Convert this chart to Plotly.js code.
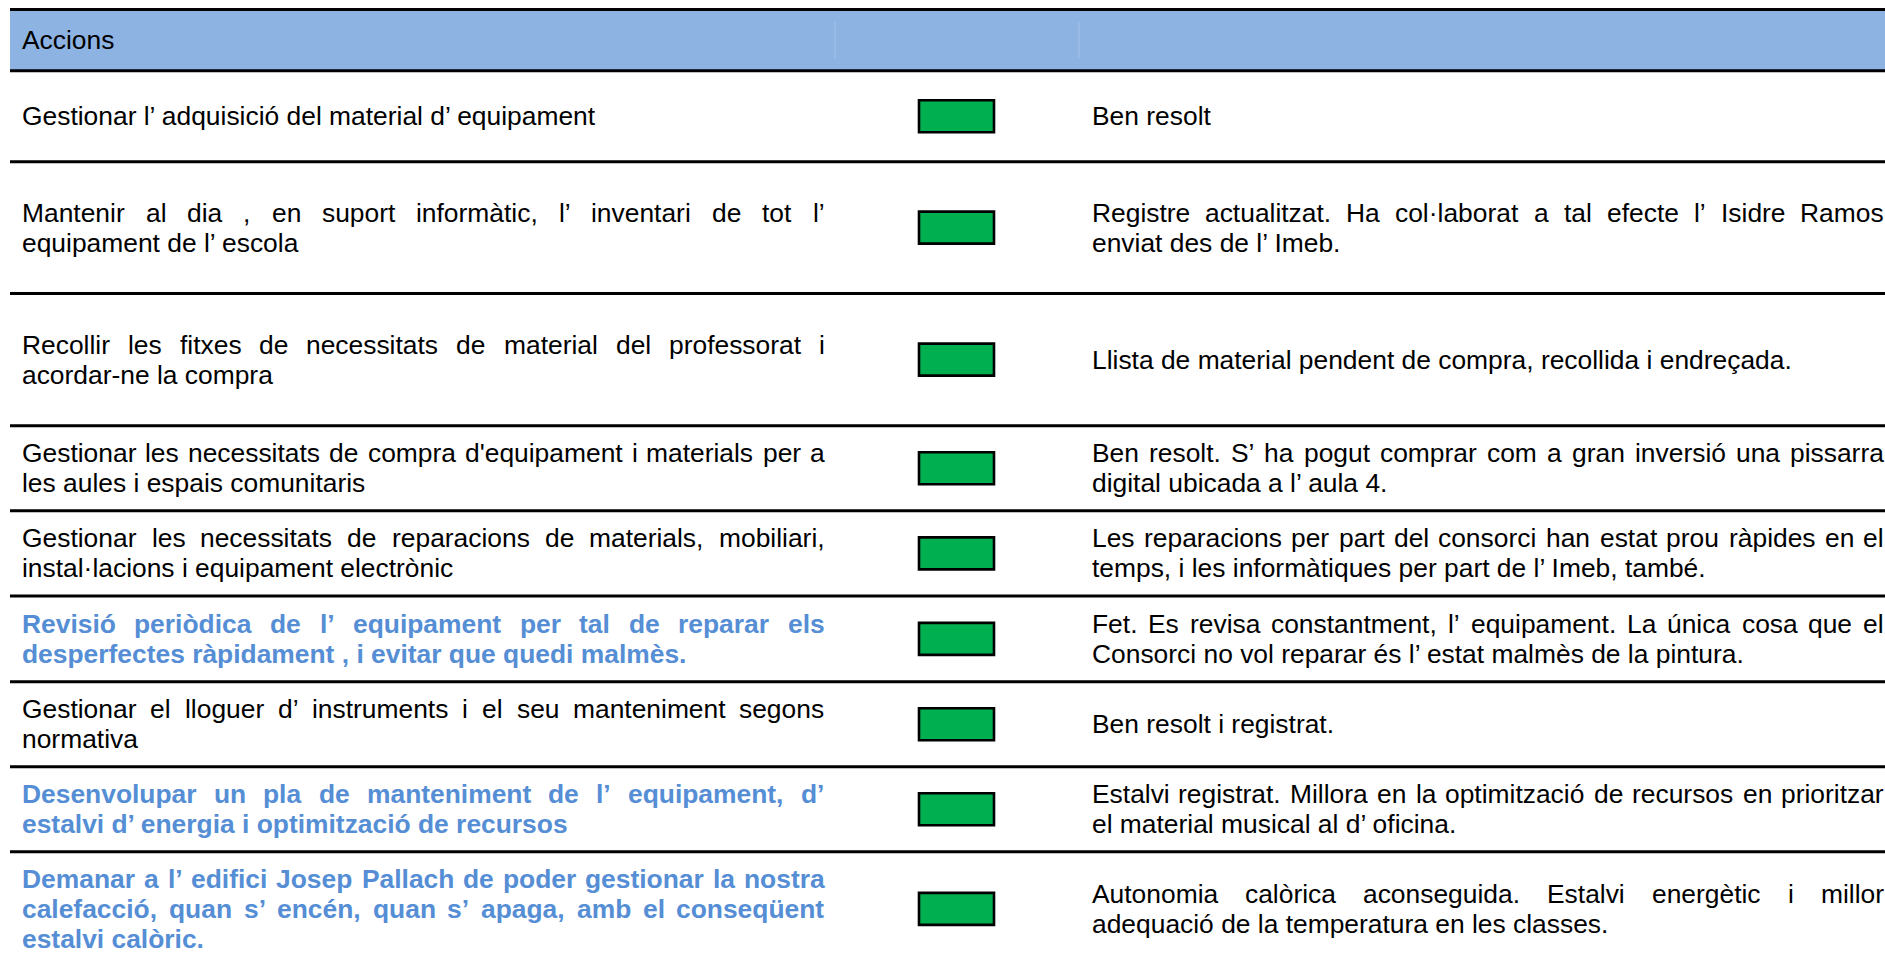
<!DOCTYPE html>
<html><head><meta charset="utf-8">
<script src="https://cdn.plot.ly/plotly-3.0.1.min.js"></script>
<style>html,body{margin:0;padding:0;background:#fff;overflow:hidden}</style>
</head><body>
<div id="chart" style="width:1885px;height:964px"></div>
<script>
// ---------- DATA ----------
const headerLabels = ['Accions'];
const actions = [
  ['Gestionar l’ adquisició del material d’ equipament'],
  ['Mantenir al dia , en suport informàtic, l’ inventari de tot l’', 'equipament de l’ escola'],
  ['Recollir les fitxes de necessitats de material del professorat i', 'acordar-ne la compra'],
  ['Gestionar les necessitats de compra d\'equipament i materials per a', 'les aules i espais comunitaris'],
  ['Gestionar les necessitats de reparacions de materials, mobiliari,', 'instal·lacions i equipament electrònic'],
  ['Revisió periòdica de l’ equipament per tal de reparar els', 'desperfectes ràpidament , i evitar que quedi malmès.'],
  ['Gestionar el lloguer d’ instruments i el seu manteniment segons', 'normativa'],
  ['Desenvolupar un pla de manteniment de l’ equipament, d’', 'estalvi d’ energia i optimització de recursos'],
  ['Demanar a l’ edifici Josep Pallach de poder gestionar la nostra', 'calefacció, quan s’ encén, quan s’ apaga, amb el conseqüent', 'estalvi calòric.']
];
const results = [
  ['Ben resolt'],
  ['Registre actualitzat. Ha col·laborat a tal efecte l’ Isidre Ramos', 'enviat des de l’ Imeb.'],
  ['Llista de material pendent de compra, recollida i endreçada.'],
  ['Ben resolt. S’ ha pogut comprar com a gran inversió una pissarra', 'digital ubicada a l’ aula 4.'],
  ['Les reparacions per part del consorci han estat prou ràpides en el', 'temps, i les informàtiques per part de l’ Imeb, també.'],
  ['Fet. Es revisa constantment, l’ equipament. La única cosa que el', 'Consorci no vol reparar és l’ estat malmès de la pintura.'],
  ['Ben resolt i registrat.'],
  ['Estalvi registrat. Millora en la optimització de recursos en prioritzar', 'el material musical al d’ oficina.'],
  ['Autonomia calòrica aconseguida. Estalvi energètic i millor', 'adequació de la temperatura en les classes.']
];
const status = ['verd','verd','verd','verd','verd','verd','verd','verd','verd'];
const emphasis = [false,false,false,false,false,true,false,true,true];

// ---------- LAYOUT / STYLE ----------
const W = 1885, H = 964;
const FAMILY = 'Liberation Sans, Arial, sans-serif';
const FS = 26.4, LINE = 30;
const headerTop = 9.5, headerBottom = 70.7;
const rowEdges = [70.7, 161.7, 293.5, 425.7, 510.7, 596, 681.7, 766.7, 851.7, 966];
const tableX0 = 10;
const leftX0 = 21, leftX1 = 823.5, rightX0 = 1090.5, rightX1 = 1883;
const boxX0 = 919, boxX1 = 994, boxHalf = 16;
const headerSeps = [835, 1079];
const BLUE = '#558ED5', HEADER = '#8DB3E2';
const statusColor = {verd: '#00B050'};

const ctx = document.createElement('canvas').getContext('2d');
function measure(t, bold) {
  ctx.font = (bold ? 'bold ' : '') + FS + 'px "Liberation Sans"';
  return ctx.measureText(t).width;
}
function ann(x, y, text, bold, color) {
  return {x: x, y: y, xref: 'x', yref: 'y', text: bold ? '<b>' + text + '</b>' : text,
    showarrow: false, xanchor: 'left', yanchor: 'middle', align: 'left', borderpad: 0,
    font: {family: FAMILY, size: FS, color: color}};
}
function paragraph(lines, x0, x1, yc, bold, color, out) {
  const n = lines.length;
  lines.forEach((ln, i) => {
    const y = yc + (i - (n - 1) / 2) * LINE;
    const words = ln.split(' ');
    if (i === n - 1 || words.length < 2) {
      out.push(ann(x0, y, ln, bold, color));
    } else {
      const widths = words.map(w => measure(w, bold));
      const total = widths.reduce((a, b) => a + b, 0);
      const gap = (x1 - x0 - total) / (words.length - 1);
      let x = x0;
      words.forEach((w, k) => { out.push(ann(x, y, w, bold, color)); x += widths[k] + gap; });
    }
  });
}

const annotations = [];
const shapes = [];
// header
shapes.push({type: 'rect', xref: 'x', yref: 'y', x0: tableX0, x1: W, y0: headerTop, y1: headerBottom,
  fillcolor: HEADER, line: {width: 0}, layer: 'below'});
headerSeps.forEach(sx => shapes.push({type: 'line', xref: 'x', yref: 'y', x0: sx, x1: sx, y0: 22, y1: 58,
  line: {color: 'rgba(255,255,255,0.22)', width: 1}}));
annotations.push(ann(leftX0, (headerTop + headerBottom) / 2, headerLabels[0], false, '#000'));

actions.forEach((lines, r) => {
  const yc = (rowEdges[r] + rowEdges[r + 1]) / 2;
  const col = emphasis[r] ? BLUE : '#000';
  paragraph(lines, leftX0, leftX1, yc, emphasis[r], col, annotations);
  paragraph(results[r], rightX0, rightX1, yc, false, '#000', annotations);
  shapes.push({type: 'rect', xref: 'x', yref: 'y', x0: boxX0, x1: boxX1, y0: yc - boxHalf, y1: yc + boxHalf,
    fillcolor: statusColor[status[r]], line: {color: '#000', width: 2.6}});
});
// horizontal rules
[headerTop].concat(rowEdges.slice(0, -1)).forEach(y => shapes.push({type: 'line', xref: 'x', yref: 'y',
  x0: tableX0, x1: W, y0: y, y1: y, line: {color: '#000', width: 3}}));

const layout = {
  width: W, height: H, margin: {l: 0, r: 0, t: 0, b: 0, pad: 0},
  paper_bgcolor: '#fff', plot_bgcolor: '#fff', showlegend: false,
  xaxis: {range: [0, W], visible: false, fixedrange: true},
  yaxis: {range: [H, 0], visible: false, fixedrange: true},
  shapes: shapes, annotations: annotations
};
Plotly.newPlot('chart', [{type: 'scatter', x: [0], y: [0], mode: 'markers', marker: {opacity: 0}, hoverinfo: 'skip'}],
  layout, {staticPlot: true, displayModeBar: false});
</script>
</body></html>
